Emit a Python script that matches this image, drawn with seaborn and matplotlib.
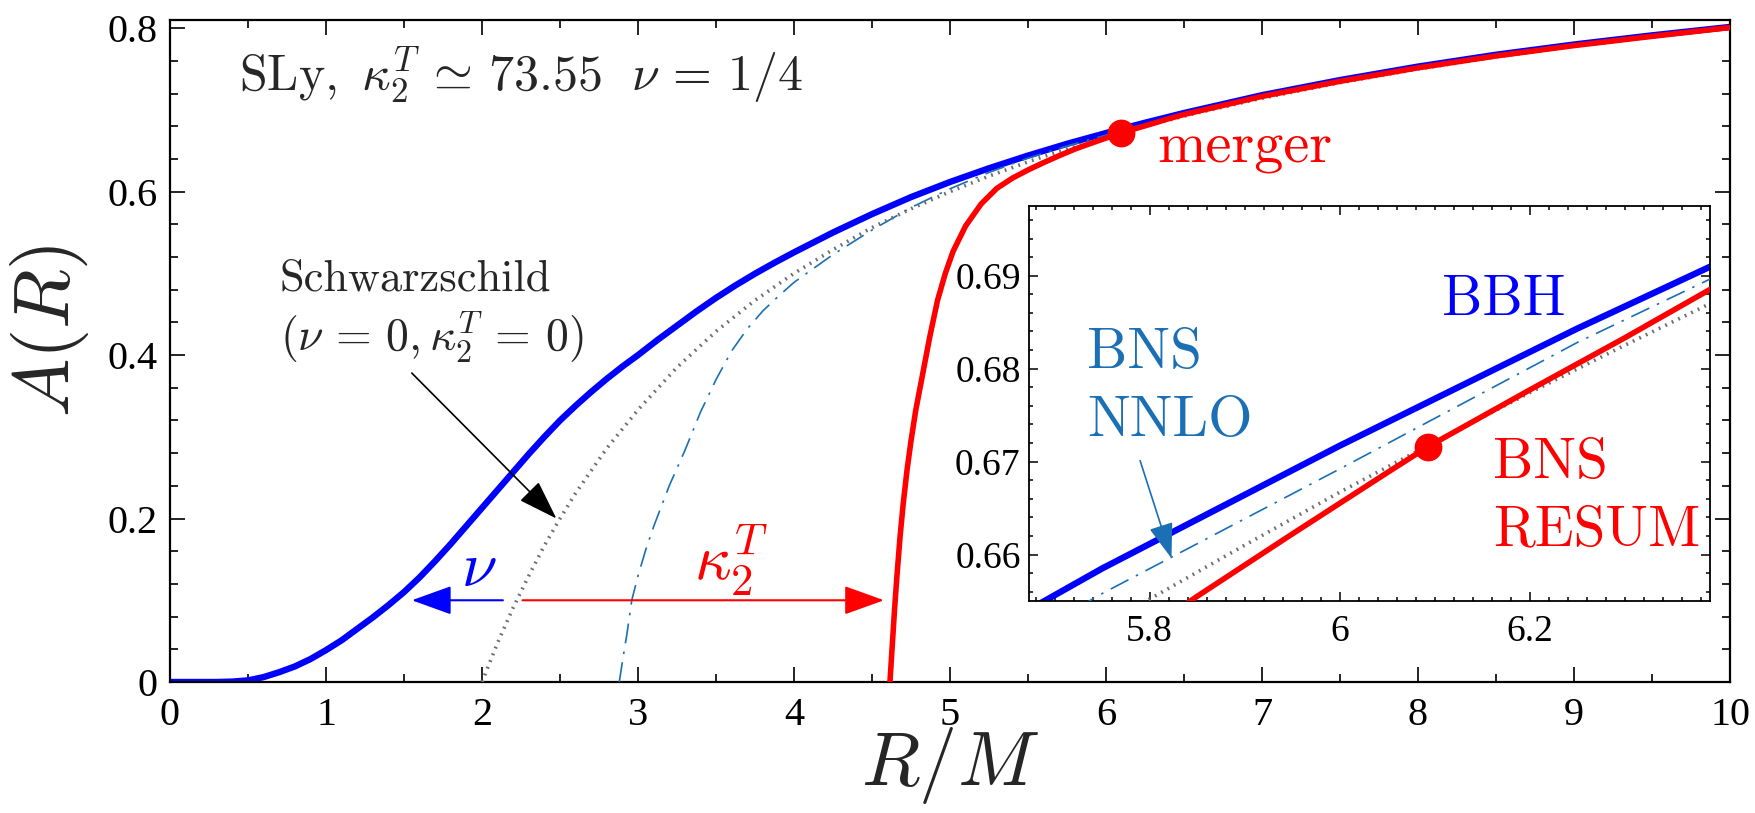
import numpy as np
import pandas as pd
import seaborn as sns
import matplotlib.pyplot as plt
from matplotlib.ticker import MultipleLocator, FuncFormatter
from matplotlib.patches import FancyArrowPatch

# ---- data: A(R) for the different models ----
# BBH, EOB with nu = 1/4
r_bbh = [0.0, 0.3, 0.4, 0.5, 0.6, 0.7, 0.8, 0.9, 1.0, 1.1, 1.2, 1.3, 1.4, 1.5,
         1.6, 1.7, 1.8, 1.9, 2.0, 2.1, 2.2, 2.3, 2.4, 2.5, 2.6, 2.7, 2.8, 2.9,
         3.0, 3.125, 3.25, 3.375, 3.5, 3.625, 3.75, 3.875, 4.0, 4.25, 4.5,
         4.75, 5.0, 5.25, 5.5, 5.75, 6.0, 6.25, 6.5, 7.0, 7.5, 8.0, 8.5, 9.0,
         9.5, 10.0]
a_bbh = [0.0, 0.0, 0.0005, 0.002, 0.006, 0.012, 0.019, 0.028, 0.039, 0.051,
         0.065, 0.079, 0.094, 0.110, 0.128, 0.148, 0.169, 0.191, 0.213, 0.235,
         0.257, 0.279, 0.300, 0.320, 0.338, 0.355, 0.371, 0.386, 0.400, 0.4185,
         0.436, 0.4535, 0.4700, 0.4853, 0.4996, 0.5130, 0.5257, 0.5500, 0.5725,
         0.5933, 0.6118, 0.6286, 0.6441, 0.6585, 0.6717, 0.6843, 0.6962,
         0.7180, 0.7365, 0.7530, 0.7675, 0.7800, 0.7912, 0.8015]

# Schwarzschild (nu = 0, kappa = 0)
r_sch = [2.0, 2.1, 2.2, 2.3, 2.4, 2.5, 2.6, 2.8, 3.0, 3.25, 3.5, 3.75, 4.0,
         4.25, 4.5, 4.75, 5.0, 5.25, 5.5, 5.6, 5.7, 5.8, 5.9, 6.0, 6.1, 6.2,
         6.3, 6.4, 6.6, 7.0, 7.5, 8.0, 8.5, 9.0, 9.5, 10.0]
a_sch = [0.0, 0.048, 0.091, 0.130, 0.167, 0.200, 0.231, 0.286, 0.333, 0.385,
         0.429, 0.467, 0.500, 0.529, 0.556, 0.579, 0.600, 0.619, 0.6364,
         0.6429, 0.6491, 0.6552, 0.6610, 0.6667, 0.6721, 0.6774, 0.6825,
         0.6875, 0.6970, 0.7143, 0.7333, 0.7500, 0.7647, 0.7778, 0.7895, 0.8000]

# BNS, NNLO tidal
r_nnlo = [2.88, 2.90, 2.93, 2.96, 3.0, 3.05, 3.1, 3.15, 3.2, 3.3, 3.4, 3.5,
          3.6, 3.7, 3.8, 3.9, 4.0, 4.25, 4.5, 4.75, 5.0, 5.25, 5.5, 5.75,
          6.0, 6.25, 6.5, 7.0, 7.5, 8.0, 8.5, 9.0, 9.5, 10.0]
a_nnlo = [0.0, 0.025, 0.060, 0.100, 0.130, 0.162, 0.190, 0.215, 0.240, 0.283,
          0.330, 0.370, 0.405, 0.432, 0.454, 0.472, 0.489, 0.523, 0.553,
          0.5805, 0.6035, 0.6235, 0.6410, 0.6558, 0.6692, 0.6828, 0.6950,
          0.7170, 0.7355, 0.7518, 0.7665, 0.7790, 0.7905, 0.8010]

# BNS, resummed tidal
r_res = [4.615, 4.630, 4.645, 4.660, 4.680, 4.700, 4.725, 4.750, 4.780, 4.820,
         4.870, 4.920, 4.970, 5.020, 5.100, 5.200, 5.300, 5.400, 5.500, 5.600,
         5.700, 5.800, 5.850, 5.950, 6.050, 6.093, 6.200, 6.300, 6.400, 6.500,
         7.0, 7.5, 8.0, 8.5, 9.0, 9.5, 10.0]
a_res = [0.0, 0.045, 0.090, 0.130, 0.178, 0.218, 0.260, 0.295, 0.332, 0.372,
         0.422, 0.467, 0.500, 0.527, 0.558, 0.585, 0.604, 0.6165, 0.6265,
         0.6355, 0.6440, 0.6520, 0.6555, 0.6622, 0.6688, 0.6716, 0.6777,
         0.6833, 0.6891, 0.6944, 0.7165, 0.7350, 0.7515, 0.7660, 0.7787,
         0.7900, 0.8008]

merger_r = 6.093
merger_a = 0.6716

BLUE = '#0000ff'
RED = '#ff0000'
NNLO_C = '#1a6fb5'
GRAY = '#6e6e6e'
CM = 'cmr10'

sns.set_style('ticks')
plt.rcParams['font.family'] = 'serif'
plt.rcParams['font.serif'] = ['Liberation Serif', 'DejaVu Serif']
plt.rcParams['mathtext.fontset'] = 'cm'
plt.rcParams['axes.edgecolor'] = 'black'
plt.rcParams['xtick.color'] = 'black'
plt.rcParams['ytick.color'] = 'black'

fig = plt.figure(figsize=(17.56, 8.13), dpi=100)
ax = fig.add_axes([170 / 1756, 1 - 682 / 813, 1560 / 1756, 662 / 813])
ins = fig.add_axes([1029 / 1756, 1 - 601 / 813, 681 / 1756, 395 / 813])


def draw_curves(a):
    sns.lineplot(x=r_bbh, y=a_bbh, ax=a, color=BLUE, lw=4.6,
                 estimator=None, sort=False, zorder=2)
    sns.lineplot(x=r_nnlo, y=a_nnlo, ax=a, color=NNLO_C, lw=1.2,
                 linestyle=(0, (12, 5, 1.5, 5)), estimator=None, sort=False,
                 zorder=3)
    sns.lineplot(x=r_sch, y=a_sch, ax=a, color=GRAY, lw=2.6,
                 linestyle=(0, (0.5, 1.5)), estimator=None, sort=False,
                 zorder=4)
    sns.lineplot(x=r_res, y=a_res, ax=a, color=RED, lw=4.0,
                 estimator=None, sort=False, zorder=5)
    a.plot([merger_r], [merger_a], 'o', color=RED, ms=19, zorder=6)


draw_curves(ax)
draw_curves(ins)

fmt = FuncFormatter(lambda v, p: '%g' % round(v, 4))

# main axes
ax.set_xlim(0, 10)
ax.set_ylim(0, 0.81)
ax.xaxis.set_major_locator(MultipleLocator(1))
ax.xaxis.set_minor_locator(MultipleLocator(0.5))
ax.yaxis.set_major_locator(MultipleLocator(0.2))
ax.yaxis.set_minor_locator(MultipleLocator(0.04))
ax.xaxis.set_major_formatter(fmt)
ax.yaxis.set_major_formatter(fmt)
ax.tick_params(which='both', direction='in', top=True, right=True, width=1.2)
ax.tick_params(which='major', length=11, labelsize=29)
ax.tick_params(which='minor', length=5.5)
ax.tick_params(axis='x', which='major', pad=11)
ax.tick_params(axis='y', which='major', pad=9)
for s in ax.spines.values():
    s.set_linewidth(1.6)
ax.set_xlabel(r'$R/M$', fontsize=55)
ax.set_ylabel(r'$A(R)$', fontsize=56)
ax.xaxis.set_label_coords(0.5, -0.126)
ax.xaxis.label.set_va('center')
ax.yaxis.set_label_coords(-0.077, 0.53)
ax.yaxis.label.set_va('center')

# inset axes
ins.set_xlim(5.673, 6.39)
ins.set_ylim(0.655, 0.6975)
ins.xaxis.set_major_locator(MultipleLocator(0.2))
ins.xaxis.set_minor_locator(MultipleLocator(0.02))
ins.yaxis.set_major_locator(MultipleLocator(0.01))
ins.yaxis.set_minor_locator(MultipleLocator(0.002))
ins.xaxis.set_major_formatter(fmt)
ins.yaxis.set_major_formatter(fmt)
ins.tick_params(which='both', direction='in', top=True, right=True, width=1.1)
ins.tick_params(which='major', length=6.5, labelsize=27)
ins.tick_params(which='minor', length=3.2)
ins.tick_params(axis='x', which='major', pad=10)
ins.tick_params(axis='y', which='major', pad=6)
for s in ins.spines.values():
    s.set_linewidth(1.3)
ins.set_xlabel('')
ins.set_ylabel('')

# annotations, main
ax.text(0.44, 0.724,
        r'$\mathrm{SLy},\ \kappa_2^T\, \simeq\, 73.55\ \ \nu\, =\, 1/4$',
        fontsize=36, va='baseline', ha='left')
ax.text(0.705, 0.479, 'Schwarzschild', fontsize=32, family=CM,
        va='baseline', ha='left')
ax.text(0.705, 0.405, r'$(\nu\, =\, 0, \kappa_2^T\, =\, 0)$', fontsize=33,
        va='baseline', ha='left')
ax.text(6.33, 0.636, 'merger', fontsize=42, color=RED, family=CM,
        va='baseline', ha='left')
ax.text(1.98, 0.136, r'$\nu$', fontsize=46, color=BLUE, ha='center',
        va='center')
ax.text(3.60, 0.149, r'$\kappa_2^T$', fontsize=46, color=RED, ha='center',
        va='center')

ax.add_patch(FancyArrowPatch((1.55, 0.378), (2.477, 0.2),
                             arrowstyle='-|>,head_length=1.25,head_width=0.42',
                             mutation_scale=20, color='black', lw=1.2,
                             shrinkA=0, shrinkB=0, zorder=7))
ax.add_patch(FancyArrowPatch((2.134, 0.1), (1.55, 0.1),
                             arrowstyle='-|>,head_length=1.25,head_width=0.45',
                             mutation_scale=20, color=BLUE, lw=1.5,
                             shrinkA=0, shrinkB=0, zorder=7))
ax.add_patch(FancyArrowPatch((2.26, 0.1), (4.577, 0.1),
                             arrowstyle='-|>,head_length=1.25,head_width=0.45',
                             mutation_scale=20, color=RED, lw=1.5,
                             shrinkA=0, shrinkB=0, zorder=7))

# annotations, inset
ins.text(6.108, 0.6858, 'BBH', fontsize=41, color=BLUE, family=CM,
         va='baseline', ha='left')
ins.text(5.734, 0.6801, 'BNS', fontsize=41, color=NNLO_C, family=CM,
         va='baseline', ha='left')
ins.text(5.734, 0.6728, 'NNLO', fontsize=41, color=NNLO_C, family=CM,
         va='baseline', ha='left')
ins.text(6.162, 0.6682, 'BNS', fontsize=41, color=RED, family=CM,
         va='baseline', ha='left')
ins.text(6.162, 0.6610, 'RESUM', fontsize=41, color=RED, family=CM,
         va='baseline', ha='left')
ins.add_patch(FancyArrowPatch((5.790, 0.6701), (5.823, 0.6596),
                              arrowstyle='-|>,head_length=1.1,head_width=0.38',
                              mutation_scale=20, color=NNLO_C, lw=1.2,
                              shrinkA=0, shrinkB=0, zorder=7))

fig.savefig('out.png', dpi=100)
